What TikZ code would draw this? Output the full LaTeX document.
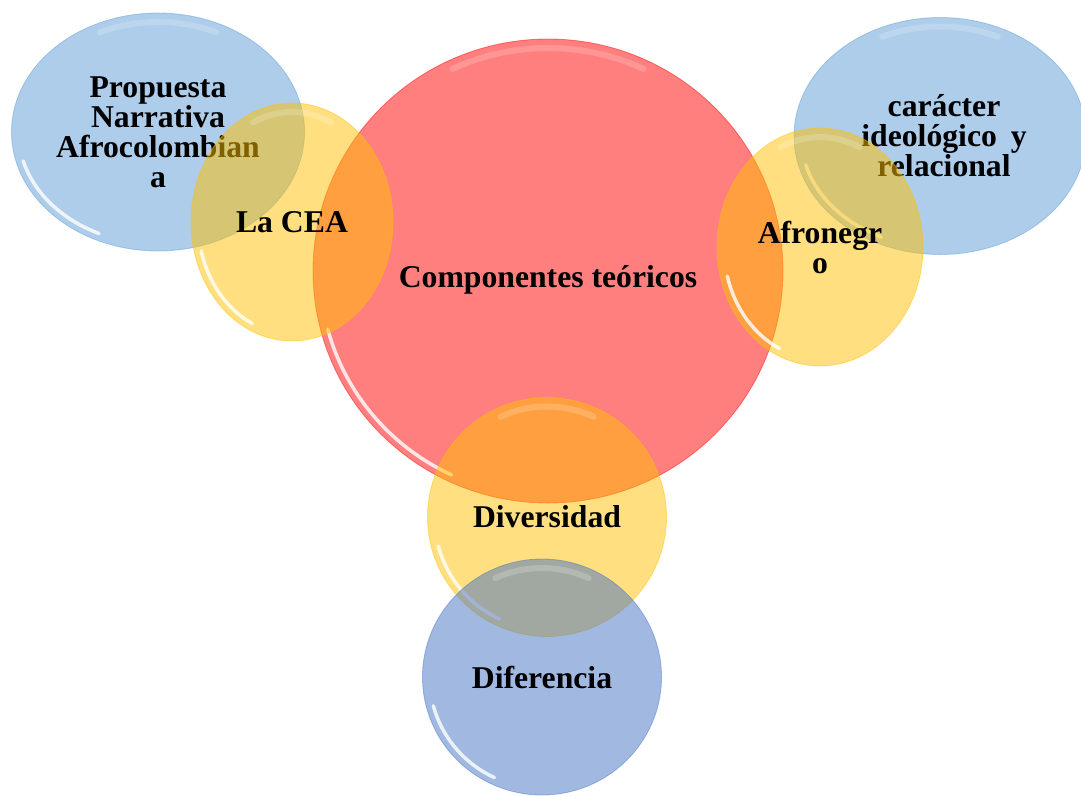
\documentclass[tikz,border=0pt]{standalone}
\usepackage{fontspec}
\setmainfont{Liberation Serif}
\usetikzlibrary{shapes.geometric}

\definecolor{bubblered}{RGB}{255,0,0}
\definecolor{bubblegold}{RGB}{255,192,0}
\definecolor{bubblesky}{RGB}{91,155,213}
\definecolor{bubbleblue}{RGB}{68,114,196}

\tikzset{
  bubble/.style n args={3}{ellipse, minimum width=#1, minimum height=#2, inner sep=0pt,
    fill=#3, fill opacity=.5, text opacity=1, draw=#3, draw opacity=.45, line width=.8pt,
    align=center, font={\bfseries\fontsize{31.7}{30}\selectfont},
    path picture={
      \draw[white, line width=3.5pt, draw opacity=.8, line cap=round]
        (path picture bounding box.center) ++(195:#1/2-7pt and #2/2-7pt)
        arc[start angle=195, end angle=245, x radius=#1/2-7pt, y radius=#2/2-7pt];
      \draw[white, line width=6pt, draw opacity=.18, line cap=round]
        (path picture bounding box.center) ++(65:#1/2-9pt and #2/2-9pt)
        arc[start angle=65, end angle=115, x radius=#1/2-9pt, y radius=#2/2-9pt];
    }},
}

\begin{document}
\begin{tikzpicture}[x=1pt, y=-1pt]
\clip (0,0) rectangle (1081,796);
% outer ideas
\node [bubble={293pt}{238pt}{bubblesky}] (propuesta) at (158,132) {Propuesta\\Narrativa\\Afrocolombian\\a};
\node [bubble={292pt}{237pt}{bubblesky}] (caracter) at (940,136) {\hspace*{8pt}car\'acter\\\hspace*{8pt}ideol\'ogico\hspace{6pt} y\\\hspace*{8pt}relacional};
% centre
\node [bubble={470pt}{464pt}{bubblered}, text height=40pt] (componentes) at (548,271) {Componentes te\'oricos};
% linking ideas
\node [bubble={202pt}{238pt}{bubblegold}] (cea) at (292,222) {La CEA};
\node [bubble={206pt}{238pt}{bubblegold}] (afronegro) at (820,247) {Afronegr\\o};
\node [bubble={239pt}{239pt}{bubblegold}] (diversidad) at (547,517) {Diversidad};
\node [bubble={239pt}{236pt}{bubbleblue}] (diferencia) at (542,677) {Diferencia};
\end{tikzpicture}
\end{document}
